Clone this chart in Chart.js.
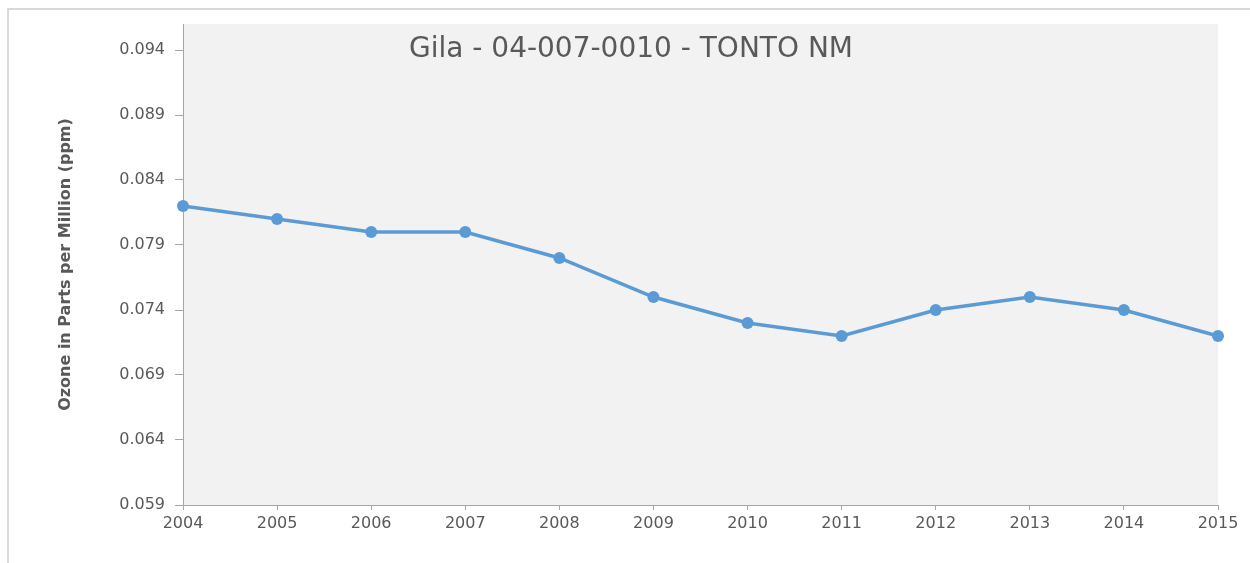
<!DOCTYPE html>
<html>
<head>
<meta charset="utf-8">
<script src="https://cdn.jsdelivr.net/npm/chart.js@4.4.0/dist/chart.umd.min.js"></script>
<style>
  html, body { margin: 0; padding: 0; background: #fff; }
  #wrap { width: 1250px; height: 563px; position: relative; }
</style>
</head>
<body>
<div id="wrap"><canvas id="ozoneChart" width="1250" height="563"></canvas></div>
<script>
// dados
const years = ['2004', '2005', '2006', '2007', '2008', '2009', '2010', '2011', '2012', '2013', '2014', '2015'];
const ozoneValues = [0.082, 0.081, 0.080, 0.080, 0.078, 0.075, 0.073, 0.072, 0.074, 0.075, 0.074, 0.072];
const yTicks = [0.059, 0.064, 0.069, 0.074, 0.079, 0.084, 0.089, 0.094];
const chartTitle = 'Gila - 04-007-0010 - TONTO NM';
const yTitle = 'Ozone in Parts per Million (ppm)';

const textColor = '#595959';
const axisColor = '#a6a6a6';
const fontFamily = "'DejaVu Sans', 'Open Sans', sans-serif";

// fundo cinza da área do gráfico + moldura + título
const decorPlugin = {
    id: 'decor',
    beforeDraw(chart) {
        const { ctx, chartArea } = chart;
        ctx.save();
        ctx.strokeStyle = '#d9d9d9';
        ctx.lineWidth = 2;
        ctx.beginPath();
        ctx.moveTo(8, 563);
        ctx.lineTo(8, 9);
        ctx.lineTo(1250, 9);
        ctx.stroke();
        ctx.fillStyle = '#f2f2f2';
        ctx.fillRect(chartArea.left, chartArea.top, chartArea.right - chartArea.left, chartArea.bottom - chartArea.top);
        ctx.restore();
    },
    afterDraw(chart) {
        const { ctx } = chart;
        ctx.save();
        ctx.fillStyle = textColor;
        ctx.font = "28px " + fontFamily;
        ctx.textAlign = 'center';
        ctx.textBaseline = 'middle';
        ctx.fillText(chartTitle, 631, 50);
        ctx.restore();
    }
};

new Chart(document.getElementById('ozoneChart').getContext('2d'), {
    type: 'line',
    data: {
        labels: years,
        datasets: [{
            label: 'Ozone',
            data: ozoneValues,
            borderColor: '#5b9bd5',
            backgroundColor: '#5b9bd5',
            borderWidth: 3.5,
            pointRadius: 6,
            pointBorderWidth: 0,
            pointBackgroundColor: '#5b9bd5',
            tension: 0,
            fill: false
        }]
    },
    options: {
        responsive: false,
        animation: false,
        layout: { padding: { left: 0, right: 32, top: 24, bottom: 0 } },
        scales: {
            x: {
                offset: false,
                grid: { drawOnChartArea: false, tickLength: 5, color: axisColor, lineWidth: 1 },
                border: { color: axisColor, width: 1 },
                ticks: { color: textColor, font: { family: fontFamily, size: 16 }, padding: 4, maxRotation: 0, autoSkip: false },
                afterFit(scale) { scale.height = 58; }
            },
            y: {
                min: 0.059,
                max: 0.096,
                grid: { drawOnChartArea: false, tickLength: 8, color: axisColor, lineWidth: 1 },
                border: { color: axisColor, width: 1 },
                ticks: {
                    color: textColor,
                    font: { family: fontFamily, size: 16 },
                    padding: 10,
                    callback: (v) => v.toFixed(3)
                },
                afterBuildTicks(scale) {
                    scale.ticks = yTicks.map(v => ({ value: v }));
                },
                afterFit(scale) { scale.width = 183; },
                title: {
                    display: true,
                    text: yTitle,
                    color: textColor,
                    font: { family: fontFamily, size: 16, weight: 'bold' },
                    padding: { top: 56, bottom: 0 }
                }
            }
        },
        plugins: {
            legend: { display: false },
            tooltip: { enabled: false }
        }
    },
    plugins: [decorPlugin]
});
</script>
</body>
</html>
